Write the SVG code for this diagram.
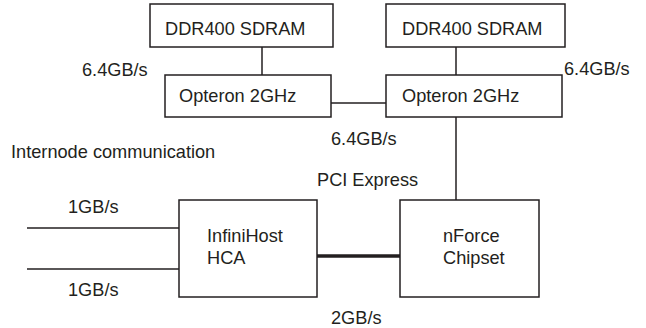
<svg xmlns="http://www.w3.org/2000/svg" width="646" height="328" viewBox="0 0 646 328">
<style>
.box{fill:#fff;stroke:#231f20;stroke-width:1.5}
.ln{stroke:#231f20;stroke-width:1.5;fill:none}
.thick{stroke:#231f20;stroke-width:3.5;fill:none}
text{font-family:"Liberation Sans",Arial,sans-serif;font-size:18.2px;fill:#231f20}
</style>
<rect width="646" height="328" fill="#fff"/>
<g id="connectors">
<line class="ln" x1="262" y1="47" x2="262" y2="75"/>
<line class="ln" x1="456" y1="47" x2="456" y2="75"/>
<line class="ln" x1="331" y1="103" x2="386" y2="103"/>
<line class="ln" x1="456" y1="117" x2="456" y2="200"/>
<line class="thick" x1="317" y1="256" x2="400" y2="256"/>
<line class="ln" x1="27" y1="228" x2="179" y2="228"/>
<line class="ln" x1="27" y1="269" x2="179" y2="269"/>
</g>
<g id="ddr1"><rect class="box" x="150" y="4" width="183" height="43"/><text x="165" y="35">DDR400 SDRAM</text></g>
<g id="ddr2"><rect class="box" x="386" y="4" width="179" height="43"/><text x="402" y="35">DDR400 SDRAM</text></g>
<g id="opteron1"><rect class="box" x="165" y="75" width="166" height="42"/><text x="179" y="102">Opteron 2GHz</text></g>
<g id="opteron2"><rect class="box" x="386" y="75" width="176" height="42"/><text x="402" y="102">Opteron 2GHz</text></g>
<g id="infinihost"><rect class="box" x="179" y="200" width="138" height="97"/><text x="207" y="242">InfiniHost</text><text x="207" y="264">HCA</text></g>
<g id="nforce"><rect class="box" x="400" y="200" width="139" height="97"/><text x="443" y="242">nForce</text><text x="443" y="264">Chipset</text></g>
<g id="labels">
<text x="82" y="76">6.4GB/s</text>
<text x="564" y="75">6.4GB/s</text>
<text x="331" y="145">6.4GB/s</text>
<text x="317" y="186">PCI Express</text>
<text x="11" y="158">Internode communication</text>
<text x="68" y="213">1GB/s</text>
<text x="68" y="296">1GB/s</text>
<text x="331" y="324">2GB/s</text>
</g>
</svg>
